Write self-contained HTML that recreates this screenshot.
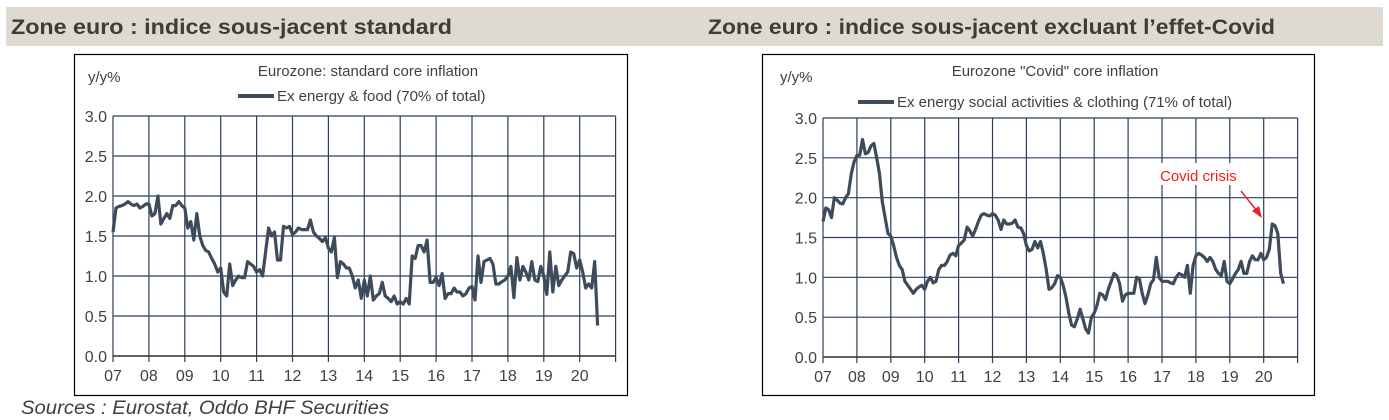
<!DOCTYPE html>
<html><head><meta charset="utf-8"><style>
html,body{margin:0;padding:0;background:#fff;width:1389px;height:420px;overflow:hidden}
svg text{font-family:"Liberation Sans",Arial,sans-serif}
</style></head><body>
<svg id="page" width="1389" height="420" xmlns="http://www.w3.org/2000/svg">
<rect x="6" y="7" width="1377" height="39" fill="#dedad1"/>
<text x="11" y="34" font-size="21" font-weight="bold" fill="#3c3c38" textLength="441" lengthAdjust="spacingAndGlyphs">Zone euro : indice sous-jacent standard</text>
<text x="708" y="34" font-size="21" font-weight="bold" fill="#3c3c38" textLength="567" lengthAdjust="spacingAndGlyphs">Zone euro : indice sous-jacent excluant l’effet-Covid</text>
<rect x="74.5" y="54.5" width="553" height="341" fill="none" stroke="#000" stroke-width="1.2"/>
<rect x="762.5" y="54.5" width="552" height="341" fill="none" stroke="#000" stroke-width="1.2"/>
<g id="left"></g>
<g id="right"></g>
<text x="21" y="414" font-size="19" font-style="italic" fill="#404040" textLength="368" lengthAdjust="spacingAndGlyphs">Sources : Eurostat, Oddo BHF Securities</text>
</svg>
<script>
const yTicks=[0,0.5,1,1.5,2,2.5,3];
const yTickLabels=["0.0","0.5","1.0","1.5","2.0","2.5","3.0"];
const yearLabels=["07","08","09","10","11","12","13","14","15","16","17","18","19","20"];
const stdCore=[
1.55,1.85,1.87,1.88,1.9,1.93,1.9,1.88,1.9,1.85,1.87,1.9,
1.9,1.75,1.78,2.0,1.65,1.72,1.78,1.72,1.88,1.88,1.93,1.88,
1.85,1.6,1.68,1.45,1.78,1.5,1.38,1.32,1.3,1.22,1.15,1.05,
1.1,0.8,0.75,1.15,0.88,0.95,1.0,0.98,0.98,1.18,1.15,1.12,
1.05,1.08,1.0,1.3,1.6,1.5,1.55,1.2,1.2,1.62,1.6,1.62,
1.52,1.55,1.6,1.58,1.58,1.58,1.7,1.55,1.5,1.47,1.43,1.48,
1.35,1.3,1.48,0.98,1.18,1.15,1.1,1.1,1.0,0.85,0.95,0.72,
0.95,0.75,1.0,0.7,0.75,0.78,0.92,0.75,0.72,0.68,0.75,0.65,
0.68,0.65,0.72,0.65,1.25,1.22,1.38,1.38,1.3,1.45,0.92,0.92,
0.98,0.88,1.03,0.72,0.78,0.78,0.85,0.8,0.8,0.75,0.78,0.85,
0.87,0.7,1.25,0.92,1.18,1.2,1.22,1.15,0.9,0.9,0.93,0.95,
1.0,1.12,0.73,1.23,0.95,1.12,1.05,0.95,1.18,0.95,0.93,1.12,
1.0,0.77,1.3,0.8,1.12,0.88,0.95,1.0,1.05,1.3,1.28,1.1,
1.2,1.05,0.85,0.9,0.85,1.18,0.38];
const covidCore=[
1.7,1.87,1.85,1.75,2.0,1.97,1.93,1.92,2.0,2.05,2.3,2.45,
2.53,2.53,2.73,2.55,2.57,2.65,2.68,2.5,2.3,1.95,1.75,1.55,
1.52,1.4,1.25,1.15,1.1,0.95,0.9,0.85,0.8,0.85,0.88,0.9,
0.85,0.95,1.0,0.93,0.95,1.1,1.15,1.15,1.2,1.28,1.3,1.27,
1.4,1.43,1.47,1.63,1.58,1.52,1.6,1.7,1.78,1.8,1.78,1.77,
1.8,1.78,1.72,1.6,1.72,1.67,1.67,1.68,1.72,1.63,1.62,1.55,
1.4,1.33,1.35,1.45,1.37,1.45,1.3,1.1,0.85,0.87,0.92,1.02,
1.0,0.9,0.75,0.55,0.4,0.38,0.48,0.6,0.48,0.35,0.3,0.5,
0.55,0.65,0.8,0.78,0.72,0.85,0.95,1.05,1.02,0.92,0.7,0.78,
0.8,0.8,0.8,1.0,0.98,0.8,0.67,0.78,0.92,0.97,1.25,1.0,
0.95,0.95,0.95,0.93,0.92,1.0,1.05,1.03,1.0,1.15,0.8,1.15,
1.27,1.3,1.28,1.25,1.2,1.25,1.2,1.1,1.05,1.02,1.2,0.95,
0.92,0.98,1.05,1.1,1.2,1.05,1.05,1.2,1.27,1.22,1.22,1.3,
1.22,1.25,1.35,1.67,1.65,1.55,1.05,0.92];
const NS="http://www.w3.org/2000/svg";
function mk(parent,tag,attrs,txt){const e=document.createElementNS(NS,tag);for(const k in attrs)e.setAttribute(k,attrs[k]);if(txt!==undefined)e.textContent=txt;parent.appendChild(e);return e;}
function drawChart(g,cfg,data){
  const xs=i=>cfg.x0+(i/12)*cfg.yw;
  const ys=v=>cfg.y0-(v/3)*(cfg.y0-cfg.y1);
  const right=cfg.x0+14*cfg.yw;
  yTicks.forEach((t,i)=>{
    const l=mk(g,'line',{x1:cfg.x0,x2:right,y1:ys(t),y2:ys(t),stroke:t===0?'#000':'#2c3e5c','stroke-width':1.2});
    
    
    const tx=mk(g,'text',{x:cfg.x0-6,y:ys(t)+6,'font-size':16,fill:'#404040','text-anchor':'end'},yTickLabels[i]);
    
    
  });
  for(let k=0;k<=14;k++){
    const x=cfg.x0+k*cfg.yw;
    const l=mk(g,'line',{x1:x,x2:x,y1:cfg.y1,y2:ys(0)+6,stroke:'#2c3e5c','stroke-width':1.2});
    
    
    if(k<14){
      const tx=mk(g,'text',{x:x,y:ys(0)+25,'font-size':16,fill:'#404040','text-anchor':'middle'},yearLabels[k]);
      
      
    }
  }
  const d=data.map((v,i)=>(i?'L':'M')+xs(i).toFixed(1)+','+ys(v).toFixed(1)).join(' ');
  const p=mk(g,'path',{d:d,fill:'none',stroke:'#3d4b5a','stroke-width':3.2,'stroke-linejoin':'round'});
  
  
  const u=mk(g,'text',{x:cfg.unitX,y:cfg.unitY,'font-size':15,fill:'#404040'},'y/y%');
  
  
  const t=mk(g,'text',{x:cfg.titleX,y:76,'font-size':15,fill:'#404040','text-anchor':'middle'},cfg.title);
  
  
  const ll=mk(g,'line',{x1:cfg.legX,x2:cfg.legX+36,y1:cfg.legY-5,y2:cfg.legY-5,stroke:'#3d4b5a','stroke-width':4});
  
  
  const lt=mk(g,'text',{x:cfg.legX+39,y:cfg.legY,'font-size':15,fill:'#404040'},cfg.legend);
  
  
}
drawChart(document.getElementById('left'),{x0:113,yw:35.9,y0:356,y1:116,unitX:88,unitY:82,titleX:368,title:'Eurozone: standard core  inflation',legX:238,legY:101,legend:'Ex energy & food (70% of total)'},stdCore);
drawChart(document.getElementById('right'),{x0:823,yw:33.9,y0:357,y1:118,unitX:780,unitY:82,titleX:1055,title:'Eurozone "Covid" core inflation',legX:858,legY:107,legend:'Ex energy social activities & clothing (71% of total)'},covidCore);
const rg=document.getElementById('right');
const bg=mk(rg,'rect',{x:1155,y:163,width:92,height:22,fill:'#fff'});


const ct=mk(rg,'text',{x:1160,y:181,'font-size':15,fill:'#ff1a1a'},'Covid crisis');


const ar=mk(rg,'line',{x1:1241,y1:191,x2:1257,y2:211,stroke:'#e8202a','stroke-width':1.5});


const ah=mk(rg,'polygon',{points:'1262,218 1252,211 1259,206',fill:'#e8202a'});


</script>
</body></html>
